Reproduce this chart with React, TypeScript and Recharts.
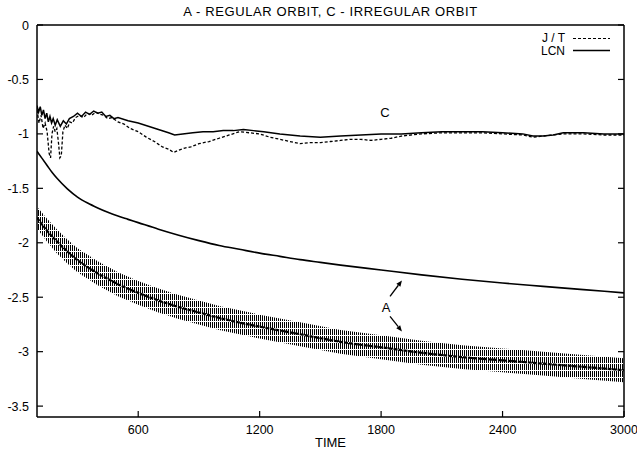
import React from 'react';
import { ComposedChart, Line, Area, XAxis, YAxis, Legend, ReferenceLine, ReferenceDot } from 'recharts';

const TITLE = 'A - REGULAR ORBIT, C - IRREGULAR ORBIT';
const X_LABEL = 'TIME';
const xTicks = [600, 1200, 1800, 2400, 3000];
const yTicks = [0, -0.5, -1, -1.5, -2, -2.5, -3, -3.5];

// C : LCN (solid)
const cLcnT = [100,108,116,124,132,140,148,156,164,172,180,190,200,215,230,245,260,280,300,320,340,360,380,400,420,440,460,480,500,550,600,650,700,750,780,820,870,920,970,1020,1070,1120,1170,1220,1300,1400,1500,1600,1700,1800,1900,2000,2100,2200,2300,2400,2500,2550,2600,2650,2700,2800,2900,3000];
const cLcnV = [-0.74,-0.80,-0.75,-0.83,-0.78,-0.86,-0.81,-0.89,-0.84,-0.90,-0.86,-0.92,-0.87,-0.93,-0.88,-0.91,-0.86,-0.84,-0.81,-0.84,-0.80,-0.82,-0.79,-0.81,-0.80,-0.84,-0.83,-0.86,-0.85,-0.88,-0.90,-0.93,-0.96,-0.99,-1.01,-1.00,-0.99,-0.98,-0.98,-0.97,-0.97,-0.96,-0.97,-0.98,-1.00,-1.02,-1.03,-1.02,-1.01,-1.00,-1.00,-0.99,-0.98,-0.98,-0.98,-0.99,-1.00,-1.02,-1.02,-1.01,-0.99,-0.99,-1.00,-1.00];

// C : J/T (dashed)
const cJtT = [100,110,120,130,140,150,160,167,174,182,190,198,206,213,220,228,238,250,262,275,290,310,330,350,370,390,410,430,450,470,500,530,560,600,640,680,720,750,775,800,830,860,900,950,1000,1050,1100,1150,1200,1250,1300,1350,1400,1450,1500,1550,1600,1650,1700,1750,1800,1850,1900,2000,2100,2200,2300,2400,2500,2550,2600,2700,2800,2900,3000];
const cJtV = [-0.78,-0.90,-0.83,-0.95,-0.90,-0.98,-1.18,-1.22,-1.00,-0.93,-0.98,-0.95,-1.08,-1.22,-1.20,-0.98,-0.92,-0.95,-0.89,-0.90,-0.85,-0.83,-0.85,-0.81,-0.83,-0.80,-0.82,-0.83,-0.86,-0.85,-0.89,-0.91,-0.95,-0.98,-1.03,-1.07,-1.12,-1.14,-1.17,-1.15,-1.13,-1.12,-1.09,-1.07,-1.04,-1.01,-0.98,-0.99,-1.00,-1.03,-1.05,-1.07,-1.09,-1.08,-1.08,-1.07,-1.06,-1.05,-1.05,-1.06,-1.05,-1.04,-1.02,-1.00,-0.99,-0.99,-0.99,-1.00,-1.01,-1.03,-1.02,-1.00,-1.00,-1.01,-1.01];

// A : LCN (solid)
const aLcnT = [100,125,150,175,200,250,300,350,400,450,500,550,600,700,800,900,1000,1100,1200,1300,1400,1500,1600,1800,2000,2200,2400,2600,2800,3000];
const aLcnV = [-1.16,-1.225,-1.29,-1.355,-1.41,-1.505,-1.58,-1.635,-1.68,-1.72,-1.755,-1.785,-1.815,-1.875,-1.93,-1.98,-2.025,-2.06,-2.095,-2.125,-2.155,-2.18,-2.205,-2.25,-2.295,-2.335,-2.37,-2.40,-2.43,-2.46];

// A : J/T (dashed, strongly oscillating band)
const aJtT = [100,150,200,250,300,400,500,600,700,800,900,1000,1200,1400,1600,1800,2000,2200,2400,2600,2800,3000];
const aJtMid = [-1.77,-1.89,-1.99,-2.08,-2.16,-2.28,-2.38,-2.46,-2.53,-2.59,-2.64,-2.69,-2.77,-2.84,-2.91,-2.96,-3.01,-3.05,-3.08,-3.11,-3.14,-3.17];
const aJtHigh = [-1.67,-1.78,-1.88,-1.97,-2.05,-2.17,-2.27,-2.35,-2.42,-2.48,-2.53,-2.58,-2.66,-2.73,-2.80,-2.85,-2.90,-2.94,-2.97,-3.00,-3.03,-3.06];
const aJtLow = [-1.87,-1.99,-2.10,-2.19,-2.27,-2.39,-2.49,-2.57,-2.64,-2.70,-2.75,-2.80,-2.88,-2.95,-3.02,-3.07,-3.12,-3.16,-3.19,-3.22,-3.25,-3.28];

const legendItems = [
  { name: 'J / T', dash: '3 2' },
  { name: 'LCN', dash: '' },
];

const textLabels = [
  { text: 'C', t: 1819, v: -0.80 },
  { text: 'A', t: 1824, v: -2.594 },
];
const arrows = [
  { from: { t: 1844, v: -2.493 }, to: { t: 1903, v: -2.346 } },
  { from: { t: 1844, v: -2.676 }, to: { t: 1903, v: -2.814 } },
];

const cLcnData = cLcnT.map((t, i) => ({ t, v: cLcnV[i] }));
const cJtData = cJtT.map((t, i) => ({ t, v: cJtV[i] }));
const aLcnData = aLcnT.map((t, i) => ({ t, v: aLcnV[i] }));
const aJtMidData = aJtT.map((t, i) => ({ t, v: aJtMid[i] }));
const aJtBandData = aJtT.map((t, i) => ({ t, range: [aJtLow[i], aJtHigh[i]] }));

const FONT = '"Liberation Sans", Arial, Helvetica, sans-serif';
const TICK_FS = 12.5;

const BottomTick = (p: any) => (
  <g>
    <line x1={p.x} x2={p.x} y1={p.y} y2={p.y - 6} stroke="#000" strokeWidth={1.2} />
    <text x={p.x} y={p.y + 17} textAnchor="middle" fontSize={TICK_FS} fontFamily={FONT} fill="#000">{p.payload.value}</text>
  </g>
);
const TopTick = (p: any) => (
  <line x1={p.x} x2={p.x} y1={p.y} y2={p.y + 6} stroke="#000" strokeWidth={1.2} />
);
const LeftTick = (p: any) => (
  <g>
    <line x1={p.x} x2={p.x + 6} y1={p.y} y2={p.y} stroke="#000" strokeWidth={1.2} />
    <text x={p.x - 8} y={p.y + 4.5} textAnchor="end" fontSize={TICK_FS} fontFamily={FONT} fill="#000">{String(p.payload.value)}</text>
  </g>
);
const RightTick = (p: any) => (
  <line x1={p.x} x2={p.x - 6} y1={p.y} y2={p.y} stroke="#000" strokeWidth={1.2} />
);

const ArrowShape = (p: any) => {
  const { x1, y1, x2, y2 } = p;
  if ([x1, y1, x2, y2].some((n) => typeof n !== 'number' || isNaN(n))) return null;
  const ang = Math.atan2(y2 - y1, x2 - x1);
  const L = 6, W = 2.5;
  const bx = x2 - L * Math.cos(ang), by = y2 - L * Math.sin(ang);
  const px = -Math.sin(ang) * W, py = Math.cos(ang) * W;
  return (
    <g>
      <line x1={x1} y1={y1} x2={bx} y2={by} stroke="#000" strokeWidth={1.3} />
      <polygon points={`${x2},${y2} ${bx + px},${by + py} ${bx - px},${by - py}`} fill="#000" />
    </g>
  );
};

const LegendContent = () => (
  <svg width={90} height={32} style={{ display: 'block', overflow: 'visible' }}>
    {legendItems.map((it, i) => (
      <g key={it.name}>
        <text x={35} y={14 + i * 12.5} textAnchor="end" fontSize={12} fontFamily={FONT} fill="#000">{it.name}</text>
        <line x1={43} x2={80} y1={10.5 + i * 12} y2={10.5 + i * 12} stroke="#000" strokeWidth={i === 0 ? 1 : 1.5} strokeDasharray={it.dash || undefined} />
      </g>
    ))}
  </svg>
);

export default function App() {
  const axisLine = { stroke: '#000', strokeWidth: 1.5 };
  return (
    <div style={{ position: 'absolute', left: 0, top: 0, width: 637, height: 450, background: '#fff' }}>
      <ComposedChart width={637} height={450} margin={{ top: 0, right: 0, bottom: 0, left: 0 }}>
        <defs>
          <pattern id="vhatch" patternUnits="userSpaceOnUse" width="2" height="7">
            <rect x="0" y="0" width="1" height="6" fill="#000" />
          </pattern>
        </defs>
        <XAxis
          xAxisId={0}
          dataKey="t"
          type="number"
          domain={[100, 3000]}
          ticks={xTicks}
          interval={0}
          allowDataOverflow
          height={33}
          tickLine={false}
          tickSize={0}
          tickMargin={0}
          axisLine={axisLine}
          tick={(p: any) => <BottomTick {...p} />}
          label={{ value: X_LABEL, position: 'insideBottom', offset: 3, fontSize: 13, fontFamily: FONT, fill: '#000' }}
        />
        <XAxis
          xAxisId="top"
          orientation="top"
          type="number"
          domain={[100, 3000]}
          ticks={xTicks}
          interval={0}
          allowDataOverflow
          height={25}
          tickLine={false}
          tickSize={0}
          tickMargin={0}
          axisLine={axisLine}
          tick={(p: any) => <TopTick {...p} />}
          label={{ value: TITLE, position: 'insideTop', offset: 7, fontSize: 13, fontFamily: FONT, fill: '#000', letterSpacing: 0.6 }}
        />
        <YAxis
          yAxisId={0}
          type="number"
          domain={[-3.6, 0]}
          ticks={yTicks}
          interval={0}
          allowDataOverflow
          width={37}
          tickLine={false}
          tickSize={0}
          tickMargin={0}
          axisLine={axisLine}
          tick={(p: any) => <LeftTick {...p} />}
        />
        <YAxis
          yAxisId="right"
          orientation="right"
          type="number"
          domain={[-3.6, 0]}
          ticks={yTicks}
          interval={0}
          allowDataOverflow
          width={13}
          tickLine={false}
          tickSize={0}
          tickMargin={0}
          axisLine={axisLine}
          tick={(p: any) => <RightTick {...p} />}
        />
        <Legend
          layout="horizontal"
          verticalAlign="middle"
          align="center"
          wrapperStyle={{ top: 28, left: 530, width: 90, height: 32 }}
          content={() => <LegendContent />}
        />
        <Area data={aJtBandData} dataKey="range" type="linear" stroke="none" fill="url(#vhatch)" fillOpacity={1} isAnimationActive={false} dot={false} activeDot={false} legendType="none" />
        <Line data={aJtMidData} dataKey="v" type="monotone" stroke="#000" strokeWidth={2.2} strokeDasharray="4 1" dot={false} activeDot={false} isAnimationActive={false} legendType="none" />
        <Line data={aLcnData} dataKey="v" type="monotone" stroke="#000" strokeWidth={1.6} dot={false} activeDot={false} isAnimationActive={false} legendType="none" />
        <Line data={cJtData} dataKey="v" type="linear" stroke="#000" strokeWidth={1.3} strokeDasharray="3 2" dot={false} activeDot={false} isAnimationActive={false} legendType="none" />
        <Line data={cLcnData} dataKey="v" type="linear" stroke="#000" strokeWidth={1.5} dot={false} activeDot={false} isAnimationActive={false} legendType="none" />
        {arrows.map((a, i) => (
          <ReferenceLine key={'ar' + i} segment={[{ x: a.from.t, y: a.from.v }, { x: a.to.t, y: a.to.v }]} shape={(p: any) => <ArrowShape {...p} />} ifOverflow="visible" />
        ))}
        {textLabels.map((l) => (
          <ReferenceDot key={l.text} x={l.t} y={l.v} r={1} fill="none" stroke="none" ifOverflow="visible"
            label={{ value: l.text, position: 'center', fontSize: 13, fontFamily: FONT, fill: '#000' }} />
        ))}
      </ComposedChart>
    </div>
  );
}
